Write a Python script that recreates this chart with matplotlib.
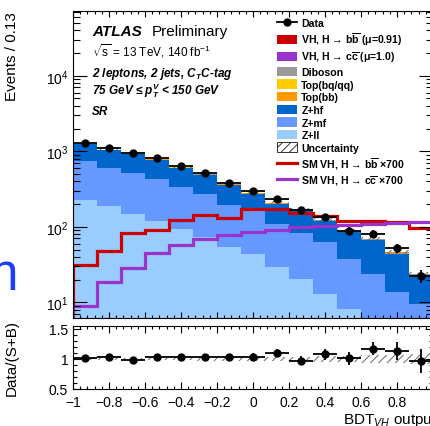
import numpy as np
import matplotlib
matplotlib.use("Agg")
import matplotlib.pyplot as plt
from matplotlib.patches import Patch
from matplotlib.lines import Line2D
from matplotlib.ticker import MultipleLocator, LogLocator, LogFormatterMathtext, NullFormatter

plt.rcParams['font.family'] = ['Liberation Sans', 'DejaVu Sans']
plt.rcParams['mathtext.fontset'] = 'custom'
plt.rcParams['mathtext.rm'] = 'Liberation Sans'
plt.rcParams['mathtext.it'] = 'Liberation Sans:italic'
plt.rcParams['mathtext.bf'] = 'Liberation Sans:bold'
plt.rcParams['mathtext.bfit'] = 'Liberation Sans:italic:bold'
plt.rcParams['hatch.color'] = '#666666'
plt.rcParams['hatch.linewidth'] = 0.7

# BDT bins (width 0.133)
edges = np.linspace(-1, 1, 16)
centers = 0.5 * (edges[1:] + edges[:-1])

# backgrounds / signals per bin
z_ll = [229, 187, 148, 120, 93.5, 74, 53.5, 44, 29, 20.4, 13, 8.1, 4.5, 2.5, 1.5]
z_mf = [509, 420, 368, 306, 240, 198, 140, 116, 80, 63, 49, 29.4, 19.2, 11.1, 8]
z_hf = [492, 421, 410, 352, 270, 215, 169, 115, 93, 83, 57, 47, 42.5, 30.7, 12.6]
top_bb = [10, 8, 8, 6, 5, 4, 3, 2.5, 2, 1.5, 1.2, 0.9, 0.7, 0.5, 0.3]
top_bq = [4, 3, 3, 2, 2, 1.5, 1, 1, 0.8, 0.6, 0.5, 0.4, 0.3, 0.2, 0.1]
diboson = [19, 16, 14, 12, 9, 8, 6, 5, 4, 3.5, 2.8, 2.2, 1.8, 1.4, 0.9]
vh_cc = [0.01, 0.02, 0.03, 0.05, 0.07, 0.08, 0.09, 0.1, 0.11, 0.12, 0.13, 0.13, 0.14, 0.14, 0.15]
vh_bb = [0.04, 0.06, 0.11, 0.12, 0.16, 0.19, 0.17, 0.22, 0.22, 0.2, 0.18, 0.15, 0.15, 0.14, 0.12]
unc = [0.02, 0.02, 0.02, 0.02, 0.02, 0.025, 0.025, 0.03, 0.035, 0.04, 0.045, 0.05, 0.06, 0.07, 0.08]

# SM VH x700 lines
vhbb_x700 = [31.5, 47.7, 83.6, 90.8, 123, 143, 129, 171, 171, 151, 140, 120, 118, 114, 97]
vhcc_x700 = [8.85, 18.7, 28.2, 44.6, 57, 68, 77, 86, 91.6, 98, 103, 107, 109, 111, 115]

# data
data = [1276, 1097, 942, 822, 644, 521, 384, 295, 231, 167, 134, 88.7, 81, 52.4, 22.5]
data_err = [36, 33, 31, 29, 25, 23, 20, 17, 15, 13, 12, 9.4, 9, 7.2, 4.7]
ratio = [1.01, 1.04, 0.99, 1.03, 1.04, 1.04, 1.03, 1.04, 1.105, 0.97, 1.08, 1.01, 1.17, 1.13, 0.96]
ratio_err = [0.03, 0.03, 0.035, 0.035, 0.04, 0.045, 0.05, 0.06, 0.07, 0.075, 0.09, 0.11, 0.11, 0.15, 0.2]

W, H = 431, 427
fig = plt.figure(figsize=(W / 100, H / 100), dpi=100)
ax = fig.add_axes([73 / W, 1 - 319 / H, 360 / W, 307 / H])
ax2 = fig.add_axes([73 / W, 1 - 390 / H, 360 / W, 63 / H])

comps = [(z_ll, '#99ccff'), (z_mf, '#6699ff'), (z_hf, '#0066cc'),
         (top_bb, '#ff9900'), (top_bq, '#ffcc00'), (diboson, '#999999'),
         (vh_cc, '#9933cc'), (vh_bb, '#cc0000')]
base = np.full(15, 1e-3)
for vals, col in comps:
    top = base + np.array(vals)
    ax.stairs(top, edges, baseline=base, fill=True, color=col, lw=0)
    base = top
total = base
unc = np.array(unc)
ax.stairs(total * (1 + unc), edges, baseline=total * (1 - unc), fill=True,
          facecolor='none', edgecolor='#666666', hatch='////', lw=0)

ax.stairs(vhbb_x700, edges, color='#cc0000', lw=2.3)
ax.stairs(vhcc_x700, edges, color='#9933cc', lw=2.3)

ax.errorbar(centers, data, yerr=data_err, xerr=(edges[1] - edges[0]) / 2, fmt='o',
            color='k', ms=5, lw=1.3, capsize=0)

ax.set_yscale('log')
ax.set_xlim(-1, 1)
ax.set_ylim(6.2, 7.2e4)
ax.yaxis.set_major_locator(LogLocator(base=10, numticks=10))
ax.yaxis.set_minor_locator(LogLocator(base=10, subs=np.arange(2, 10), numticks=10))
ax.yaxis.set_major_formatter(LogFormatterMathtext())
ax.yaxis.set_minor_formatter(NullFormatter())
ax.xaxis.set_major_locator(MultipleLocator(0.2))
ax.xaxis.set_minor_locator(MultipleLocator(0.04))
ax.tick_params(axis='x', which='both', direction='in', top=True, bottom=True, labelbottom=False)
ax.tick_params(axis='x', which='major', length=4.5, width=0.8)
ax.tick_params(axis='x', which='minor', length=2.3, width=0.8)
ax.tick_params(axis='y', which='both', direction='in', left=True, right=True, labelsize=10)
ax.tick_params(axis='y', which='major', length=10, width=0.8)
ax.tick_params(axis='y', which='minor', length=5, width=0.8)
ax.set_ylabel('Events / 0.13', fontsize=11, loc='top')
ax.yaxis.set_label_coords(-0.15, 1.0)

# legend
handles = [
    Line2D([], [], color='k', marker='o', ms=5, lw=1.3),
    Patch(facecolor='#cc0000'), Patch(facecolor='#9933cc'), Patch(facecolor='#999999'),
    Patch(facecolor='#ffcc00'), Patch(facecolor='#ff9900'), Patch(facecolor='#0066cc'),
    Patch(facecolor='#6699ff'), Patch(facecolor='#99ccff'),
    Patch(facecolor='white', edgecolor='#333333', hatch='////', lw=0.7),
    Line2D([], [], color='#cc0000', lw=2.3), Line2D([], [], color='#9933cc', lw=2.3),
]
labels = ['Data',
          r'VH, H → $\mathbf{b\overline{b}}$ (μ=0.91)',
          r'VH, H → $\mathbf{c\overline{c}}$ (μ=1.0)',
          'Diboson', 'Top(bq/qq)', 'Top(bb)', 'Z+hf', 'Z+mf', 'Z+ll', 'Uncertainty',
          r'SM VH, H → $\mathbf{b\overline{b}}$ ×700',
          r'SM VH, H → $\mathbf{c\overline{c}}$ ×700']
ax.legend(handles, labels, loc='upper left', bbox_to_anchor=(277 / W, 1 - 19 / H),
          bbox_transform=fig.transFigure, frameon=False, borderpad=0, borderaxespad=0,
          handlelength=1.9, handleheight=1.0, handletextpad=0.4, labelspacing=0.22,
          prop={'weight': 'bold', 'size': 7.6})

# ATLAS label
fig.text(92 / W, 1 - 36 / H, 'ATLAS', fontsize=11, weight='bold', style='italic')
fig.text(152 / W, 1 - 36 / H, 'Preliminary', fontsize=11)
fig.text(92 / W, 1 - 56 / H, r'$\sqrt{\mathrm{s}}$ = 13 TeV, 140 fb$^{-1}$', fontsize=8.5)
fig.text(92 / W, 1 - 77 / H, r'2 leptons, 2 jets, C$_{\mathbfit{T}}$C-tag', fontsize=8.5,
         weight='bold', style='italic')
fig.text(92 / W, 1 - 95 / H, r'75 GeV ≤ $\mathbfit{p}_{\mathbfit{T}}^{\mathbfit{V}}$ < 150 GeV',
         fontsize=8.5, weight='bold', style='italic')
fig.text(92 / W, 1 - 115 / H, 'SR', fontsize=8.5, weight='bold', style='italic')

# ratio panel
ax2.stairs(1 + unc, edges, baseline=1 - unc, fill=True, facecolor='none',
           edgecolor='#666666', hatch='////', lw=0)
ax2.errorbar(centers, ratio, yerr=ratio_err, xerr=(edges[1] - edges[0]) / 2, fmt='o',
             color='k', ms=5, lw=1.3, capsize=0)
ax2.set_xlim(-1, 1)
ax2.set_ylim(0.5, 1.55)
ax2.yaxis.set_major_locator(MultipleLocator(0.5))
ax2.yaxis.set_minor_locator(MultipleLocator(0.1))
ax2.xaxis.set_major_locator(MultipleLocator(0.2))
ax2.xaxis.set_minor_locator(MultipleLocator(0.04))
ax2.yaxis.set_major_formatter(plt.FuncFormatter(lambda v, p: '%g' % v))
ax2.xaxis.set_major_formatter(plt.FuncFormatter(
    lambda v, p: '' if v > 0.99 else ('%g' % round(v, 2)).replace('-', '\u2212')))
ax2.tick_params(which='both', direction='in', top=True, right=True, labelsize=10)
ax2.tick_params(axis='x', which='major', length=5, width=0.8, pad=4)
ax2.tick_params(axis='x', which='minor', length=2.5, width=0.8)
ax2.tick_params(axis='y', which='major', length=6, width=0.8)
ax2.tick_params(axis='y', which='minor', length=3, width=0.8)
ax2.set_ylabel('Data/(S+B)', fontsize=11)
ax2.yaxis.set_label_coords(-0.15, 0.5)

for a in (ax, ax2):
    for s in a.spines.values():
        s.set_linewidth(0.8)

fig.text(437 / W, 1 - 424 / H, r'BDT$_{VH}$ output', fontsize=11, ha='right', va='baseline')

# slide text peeking in from the left
fig.text(-10 / W, 1 - 290 / H, 'n', fontsize=37, color='#1a3cff', va='baseline')

fig.savefig('out.png', dpi=100)
